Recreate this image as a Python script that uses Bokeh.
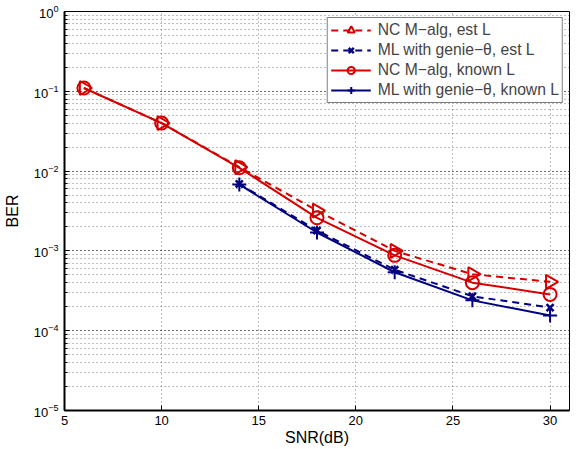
import numpy as np
from bokeh.plotting import figure
from bokeh.models import Legend, LegendItem, LogTicker, FixedTicker, Range1d
from bokeh.embed import file_html
from bokeh.resources import INLINE

snr = [6, 10, 14, 18, 22, 26, 30]
snr_ml = [14, 18, 22, 26, 30]
nc_est = [0.11, 0.040, 0.0112, 0.0032, 0.00100, 0.00051, 0.00041]
ml_est = [0.0069, 0.0018, 0.00058, 0.00027, 0.000195]
nc_known = [0.11, 0.040, 0.0110, 0.0026, 0.00088, 0.00040, 0.000285]
ml_known = [0.0068, 0.0017, 0.00054, 0.00024, 0.000155]
labels = ["NC M\u2212alg, est L", "ML with genie\u2212\u03b8, est L",
          "NC M\u2212alg, known L", "ML with genie\u2212\u03b8, known L"]
x_ticks = [5, 10, 15, 20, 25, 30]

RED = "#d40000"
BLUE = "#000080"
FONT = "Liberation Sans"

p = figure(frame_width=505, frame_height=399, y_axis_type="log", output_backend="svg",
           toolbar_location=None, x_range=Range1d(5, 31), y_range=Range1d(1e-5, 1),
           min_border_left=56, min_border_right=2, min_border_top=6, min_border_bottom=0)

p.title.text = " "
p.title.text_font_size = "8px"
p.title.standoff = 0
p.title.offset = 0

p.xaxis.ticker = FixedTicker(ticks=x_ticks)
p.yaxis.ticker = LogTicker(num_minor_ticks=10)

for ax in [p.xaxis[0], p.yaxis[0]]:
    ax.major_tick_in = 5
    ax.major_tick_out = 0
    ax.minor_tick_in = 3
    ax.minor_tick_out = 0
    ax.axis_line_width = 2
    ax.major_label_text_font = FONT
    ax.major_label_text_font_size = "13px"
    ax.major_label_text_color = "black"
    ax.axis_label_text_font = FONT
    ax.axis_label_text_font_size = "16px"
    ax.axis_label_text_font_style = "normal"
    ax.axis_label_text_color = "black"
p.xaxis.minor_tick_line_color = None
p.xaxis.axis_label = "SNR(dB)"
p.yaxis.axis_label = "BER"
p.xaxis.axis_label_standoff = 1
p.yaxis.axis_label_standoff = 10
p.xaxis.major_label_standoff = 5
p.yaxis.major_label_standoff = 6

p.outline_line_color = "black"
p.outline_line_width = 1
p.xgrid.grid_line_color = "black"
p.xgrid.grid_line_alpha = 0.5
p.xgrid.grid_line_dash = "1 3"
p.ygrid.grid_line_color = "black"
p.ygrid.grid_line_alpha = 0.5
p.ygrid.grid_line_dash = "1 3"
p.ygrid.minor_grid_line_color = "black"
p.ygrid.minor_grid_line_alpha = 0.5
p.ygrid.minor_grid_line_dash = "1 3"

l1 = p.line(snr, nc_est, color=RED, line_width=2, line_dash="7 5")
m1 = p.scatter(snr, nc_est, marker="triangle", angle=[-np.pi / 2] * len(snr), size=14, line_color=RED,
               fill_color=None, line_width=2)
l2 = p.line(snr_ml, ml_est, color=BLUE, line_width=2, line_dash="7 5")
m2 = p.scatter(snr_ml, ml_est, marker="x", size=10, line_color=BLUE, line_width=2.5)
l3 = p.line(snr, nc_known, color=RED, line_width=2)
m3 = p.scatter(snr, nc_known, marker="circle", size=13, line_color=RED, fill_color=None, line_width=2)
l4 = p.line(snr_ml, ml_known, color=BLUE, line_width=2)
m4 = p.scatter(snr_ml, ml_known, marker="cross", size=14, line_color=BLUE, line_width=2)

legend = Legend(items=[LegendItem(label=labels[0], renderers=[l1, m1], index=0),
                       LegendItem(label=labels[1], renderers=[l2, m2]),
                       LegendItem(label=labels[2], renderers=[l3, m3]),
                       LegendItem(label=labels[3], renderers=[l4, m4])],
                location="top_right", label_text_font=FONT, label_text_font_size="15.7px",
                border_line_color="black", border_line_width=1, glyph_width=40, glyph_height=18,
                label_height=18, spacing=2, padding=3, margin=6, label_standoff=7,
                background_fill_alpha=1)
p.add_layout(legend)

open("out.html", "w").write(file_html(p, INLINE))
